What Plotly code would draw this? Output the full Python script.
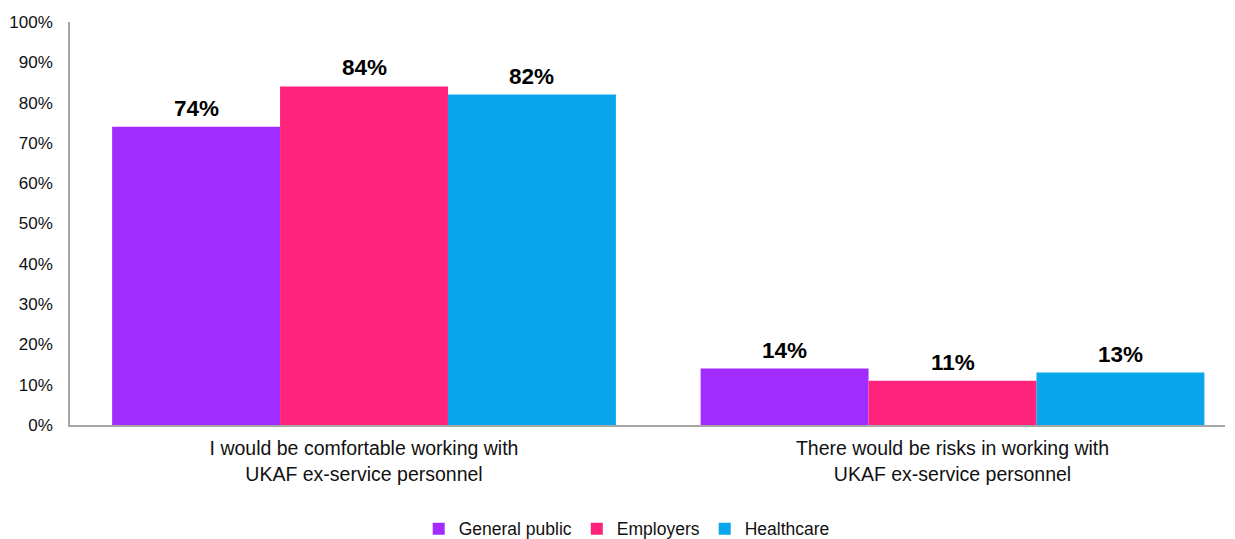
import plotly.graph_objects as go

categories = [
    "I would be comfortable working with<br>UKAF ex-service personnel",
    "There would be risks in working with<br>UKAF ex-service personnel",
]
series_names = ["General public", "Employers", "Healthcare"]
series_values = [
    [74, 14],
    [84, 11],
    [82, 13],
]
series_colors = ["#A22BFF", "#FF237C", "#0AA6EC"]
y_ticks = list(range(0, 101, 10))
y_tick_labels = [f"{v}%" for v in y_ticks]

FONT = "Liberation Sans, Arial"
positions = list(range(len(categories)))

fig = go.Figure()
for name, vals, color in zip(series_names, series_values, series_colors):
    fig.add_trace(go.Bar(
        name=name,
        x=positions,
        y=vals,
        marker=dict(color=color, line=dict(width=0)),
    ))

# value labels above each bar, positioned on the bar's own value
bargap = 0.144
n = len(series_names)
bar_w = (1 - bargap) / n
for i, (name, vals) in enumerate(zip(series_names, series_values)):
    for j, v in enumerate(vals):
        fig.add_annotation(
            x=positions[j] - (1 - bargap) / 2 + bar_w * (i + 0.5),
            y=v,
            xref="x",
            yref="y",
            text=f"<b>{v}%</b>",
            showarrow=False,
            yanchor="bottom",
            yshift=4,
            font=dict(family=FONT, size=22.5, color="#000000"),
        )

fig.update_layout(
    width=1235,
    height=539,
    margin=dict(l=70, r=10, t=22, b=114, autoexpand=False),
    paper_bgcolor="white",
    plot_bgcolor="white",
    barmode="group",
    bargap=bargap,
    bargroupgap=0,
    font=dict(family=FONT, color="#111111"),
    xaxis=dict(
        type="linear",
        range=[-0.4996, 1.463],
        tickvals=positions,
        ticktext=categories,
        showline=True,
        linecolor="#A6A6A6",
        linewidth=1.5,
        ticks="",
        tickfont=dict(size=19.5, color="#111111"),
        ticklabelstandoff=5,
        showgrid=False,
        zeroline=False,
    ),
    yaxis=dict(
        range=[0, 100],
        tickvals=y_ticks,
        ticktext=y_tick_labels,
        showline=True,
        linecolor="#A6A6A6",
        linewidth=1.5,
        ticks="",
        showgrid=False,
        zeroline=False,
        tickfont=dict(size=17, color="#111111"),
        ticklabelstandoff=12,
    ),
    legend=dict(
        orientation="h",
        x=0.482,
        xanchor="center",
        yref="container",
        y=0.019,
        yanchor="middle",
        font=dict(size=17.5, color="#111111"),
        itemwidth=30,
    ),
    showlegend=True,
)

fig.write_html("out.html")
